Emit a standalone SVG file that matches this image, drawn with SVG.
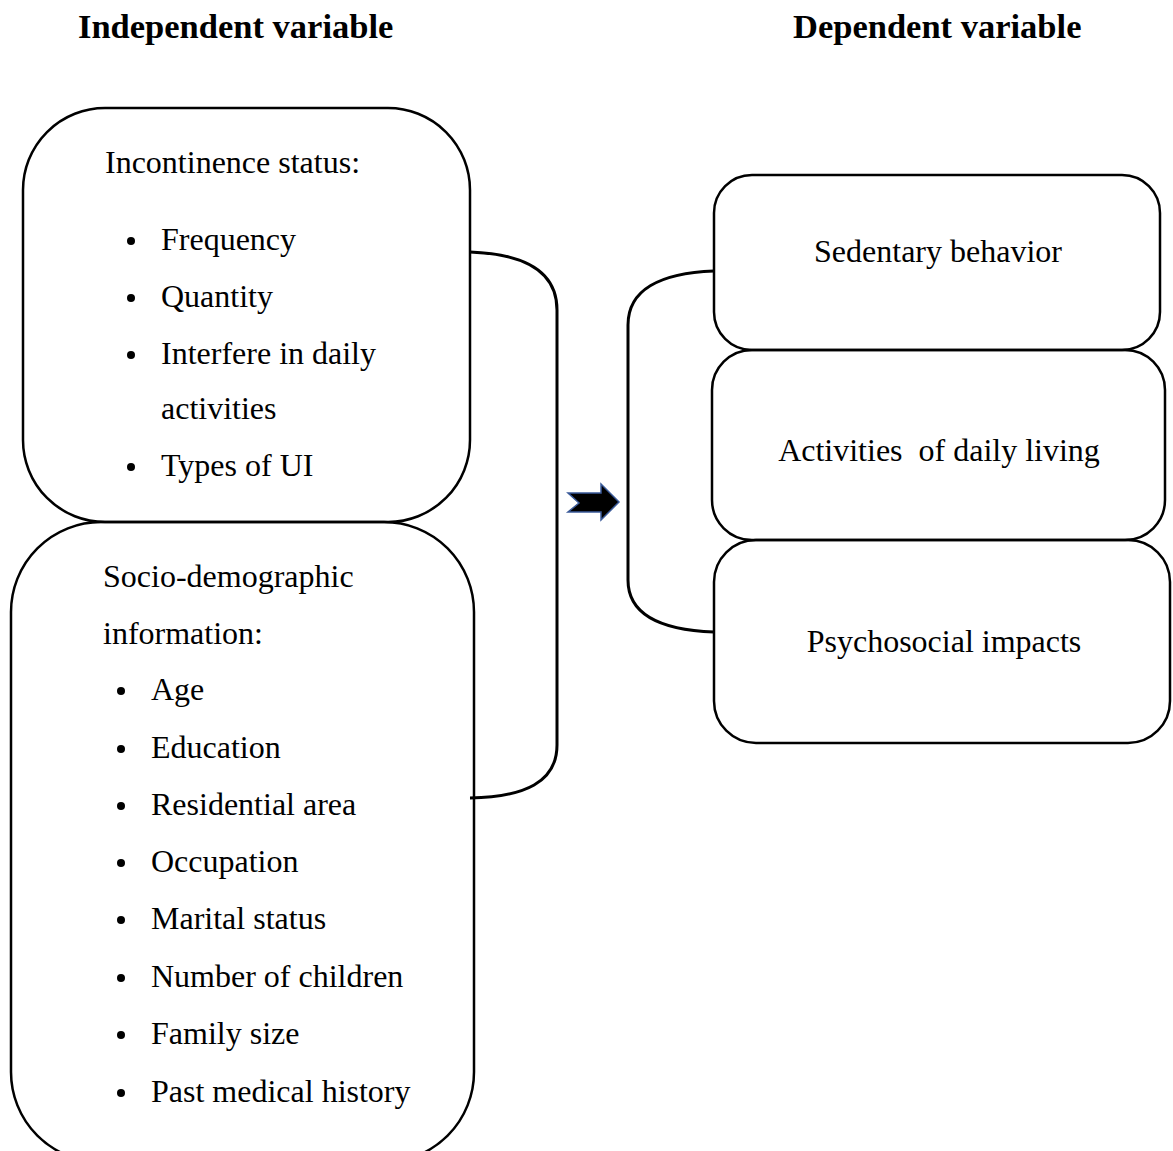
<svg xmlns="http://www.w3.org/2000/svg" width="1173" height="1151" viewBox="0 0 1173 1151">
<style>
.box{fill:none;stroke:#000;stroke-width:2.5}
.br{fill:none;stroke:#000;stroke-width:3}
text{font-family:"Liberation Serif","Times New Roman",serif;font-size:32px;fill:#000}
.t{font-weight:bold;font-size:34.5px}
.c{text-anchor:middle}
</style>
<rect width="1173" height="1151" fill="#fff"/>
<text class="t" x="78" y="38">Independent variable</text>
<text class="t" x="793" y="38">Dependent variable</text>
<g id="connectors">
<path class="br" d="M470,252 C525,254 557,272 557,310 L557,745 C557,782 525,797 470,798"/>
<path class="br" d="M714,271 C660,273 628,290 628,325 L628,580 C628,615 660,630 714,632"/>
<path d="M568,493 L601,493 L601,484 L619,502 L601,520 L601,512 L568,512 L579,503 Z" fill="#000" stroke="#3a5a99" stroke-width="1.5"/>
</g>
<g id="incontinence">
<rect class="box" x="23" y="108" width="447" height="414" rx="82" ry="82"/>
<text x="105" y="173">Incontinence status:</text>
<circle cx="131" cy="241" r="4"/><text x="161" y="250">Frequency</text>
<circle cx="131" cy="298" r="4"/><text x="161" y="307">Quantity</text>
<circle cx="131" cy="355" r="4"/><text x="161" y="364">Interfere in daily</text>
<text x="161" y="419">activities</text>
<circle cx="131" cy="467" r="4"/><text x="161" y="476">Types of UI</text>
</g>
<g id="socio">
<rect class="box" x="11" y="522" width="463" height="640" rx="90" ry="90"/>
<text x="103" y="587">Socio-demographic</text>
<text x="103" y="644">information:</text>
<circle cx="121" cy="691" r="4"/><text x="151" y="700">Age</text>
<circle cx="121" cy="749" r="4"/><text x="151" y="758">Education</text>
<circle cx="121" cy="806" r="4"/><text x="151" y="815">Residential area</text>
<circle cx="121" cy="863" r="4"/><text x="151" y="872">Occupation</text>
<circle cx="121" cy="920" r="4"/><text x="151" y="929">Marital status</text>
<circle cx="121" cy="978" r="4"/><text x="151" y="987">Number of children</text>
<circle cx="121" cy="1035" r="4"/><text x="151" y="1044">Family size</text>
<circle cx="121" cy="1093" r="4"/><text x="151" y="1102">Past medical history</text>
</g>
<g id="sedentary">
<rect class="box" x="714" y="175" width="446" height="175" rx="38" ry="38"/>
<text class="c" x="938" y="262">Sedentary behavior</text>
</g>
<g id="adl">
<rect class="box" x="712" y="350" width="453" height="190" rx="40" ry="40"/>
<text class="c" x="939" y="461" xml:space="preserve">Activities  of daily living</text>
</g>
<g id="psychosocial">
<rect class="box" x="714" y="540" width="456" height="203" rx="42" ry="42"/>
<text class="c" x="944" y="652">Psychosocial impacts</text>
</g>
</svg>
